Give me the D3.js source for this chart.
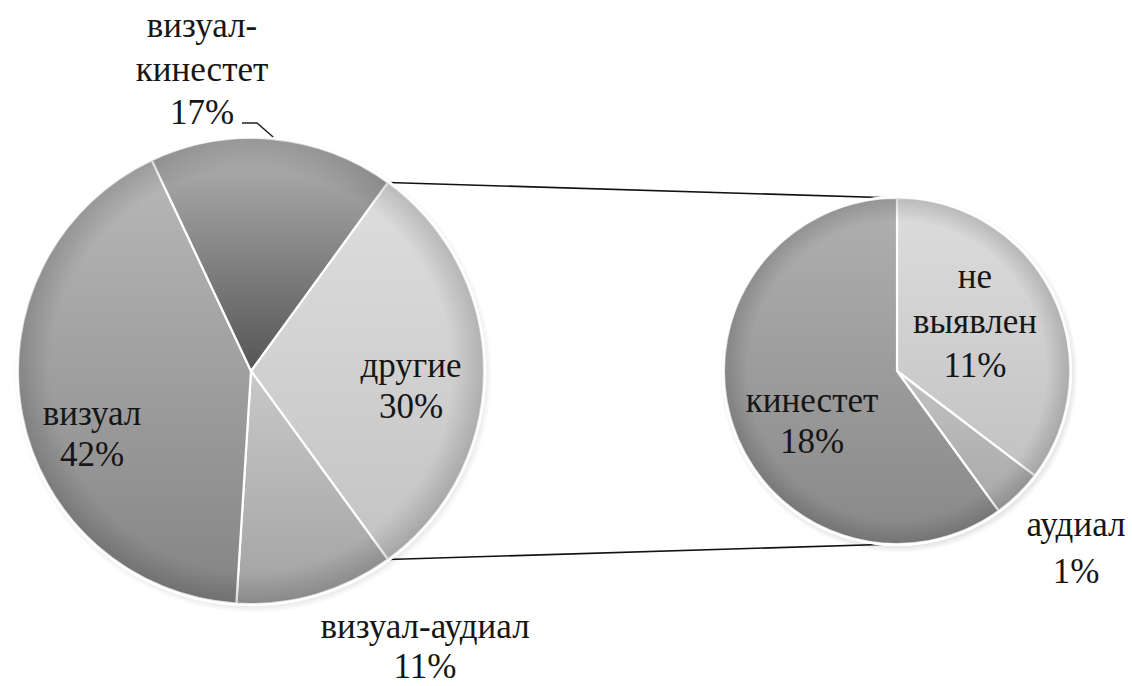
<!DOCTYPE html>
<html>
<head>
<meta charset="utf-8">
<script src="https://cdn.jsdelivr.net/npm/d3@7"></script>
<style>
  body { margin: 0; background: #fff; }
  svg { display: block; }
</style>
</head>
<body>
<svg id="chart" width="1132" height="686"></svg>
<script>
// Main pie: share of each perception type, %
const mainCategories = ["другие", "визуал-аудиал", "визуал", "визуал-кинестет"];
const mainValues = [30, 11, 42, 17];
// Breakdown of "другие", % of the whole sample
const subCategories = ["не выявлен", "аудиал", "кинестет"];
const subValues = [10.6, 1.4, 18.0];
// Label text lines (value appended from the data)
const labelLines = {
  "другие": ["другие"],
  "визуал-аудиал": ["визуал-аудиал"],
  "визуал": ["визуал"],
  "визуал-кинестет": ["визуал-", "кинестет"],
  "не выявлен": ["не", "выявлен"],
  "аудиал": ["аудиал"],
  "кинестет": ["кинестет"]
};

// ---- layout and styling ----
const svg = d3.select("#chart");
const main = { cx: 251, cy: 371, r: 233 };
const sub = { cx: 897, cy: 371, r: 173 };
const shades = {
  "другие": ["#dedede", "#c3c3c3"],
  "визуал-аудиал": ["#c8c8c8", "#a2a2a2"],
  "визуал": ["#b8b8b8", "#848484"],
  "визуал-кинестет": ["#b4b4b4", "#555555"],
  "не выявлен": ["#dddddd", "#c2c2c2"],
  "аудиал": ["#c2c2c2", "#a8a8a8"],
  "кинестет": ["#b0b0b0", "#888888"]
};
// label anchor: centre x, first baseline y, line step
const labelLayout = {
  "визуал-кинестет": { x: 202, y: 37, step: 43.5 },
  "визуал": { x: 92, y: 425, step: 41 },
  "другие": { x: 411, y: 377, step: 41 },
  "визуал-аудиал": { x: 425, y: 638, step: 40 },
  "не выявлен": { x: 975, y: 288, step: 44.5 },
  "кинестет": { x: 812, y: 412, step: 41 },
  "аудиал": { x: 1076, y: 536, step: 47 }
};
const fontSize = 35;
const pct = d3.format(".0%");

const defs = svg.append("defs");
Object.entries(shades).forEach(([name, [c0, c1]], i) => {
  const g = defs.append("linearGradient")
    .attr("id", "grad" + i)
    .attr("x1", 0).attr("y1", 0).attr("x2", 0).attr("y2", 1);
  g.append("stop").attr("offset", "0%").attr("stop-color", c0);
  g.append("stop").attr("offset", "100%").attr("stop-color", c1);
  shades[name].id = "grad" + i;
});
// soft darkening at the rim of each pie
const rim = defs.append("radialGradient").attr("id", "rim");
rim.append("stop").attr("offset", "0.86").attr("stop-color", "#000").attr("stop-opacity", 0);
rim.append("stop").attr("offset", "1").attr("stop-color", "#000").attr("stop-opacity", 0.16);
// faint shadow halo under each pie
const halo = defs.append("radialGradient").attr("id", "halo");
halo.append("stop").attr("offset", "0.9").attr("stop-color", "#000").attr("stop-opacity", 0.28);
halo.append("stop").attr("offset", "1").attr("stop-color", "#000").attr("stop-opacity", 0);

const total = d3.sum(mainValues);
const otherIdx = mainCategories.indexOf("другие");
// the split slice is centred on 3 o'clock
const start = Math.PI / 2 - (mainValues[otherIdx] / total) * Math.PI;

const mainPie = d3.pie().sort(null).value(d => d.v)
  .startAngle(start).endAngle(start + 2 * Math.PI);
const subPie = d3.pie().sort(null).value(d => d.v)
  .startAngle(0).endAngle(2 * Math.PI);

const mainData = mainPie(mainCategories.map((c, i) => ({ c, v: mainValues[i] })));
const subData = subPie(subCategories.map((c, i) => ({ c, v: subValues[i] })));

const polar = (p, a, r) => [p.cx + r * Math.sin(a), p.cy - r * Math.cos(a)];

// connector lines from the split slice to the secondary pie
const split = mainData[otherIdx];
const connectors = [
  [polar(main, split.startAngle, main.r), polar(sub, 0, sub.r)],
  [polar(main, split.endAngle, main.r), polar(sub, Math.PI, sub.r)]
];
svg.append("g").selectAll("line").data(connectors).join("line")
  .attr("x1", d => d[0][0]).attr("y1", d => d[0][1])
  .attr("x2", d => d[1][0]).attr("y2", d => d[1][1])
  .attr("stroke", "#111").attr("stroke-width", 1.6);

function drawPie(p, data) {
  const arc = d3.arc().innerRadius(0).outerRadius(p.r);
  const g = svg.append("g").attr("transform", `translate(${p.cx},${p.cy})`);
  g.append("circle").attr("cx", 2).attr("cy", 3).attr("r", p.r + 6).attr("fill", "url(#halo)");
  g.append("circle").attr("r", p.r + 2).attr("fill", "#fff");
  g.selectAll("path").data(data).join("path")
    .attr("d", arc)
    .attr("fill", d => `url(#${shades[d.data.c].id})`)
    .attr("stroke", "#fff").attr("stroke-width", 2.2)
    .attr("stroke-linejoin", "round");
  g.append("circle").attr("r", p.r).attr("fill", "url(#rim)");
  g.append("circle").attr("r", p.r + 1).attr("fill", "none")
    .attr("stroke", "#fff").attr("stroke-width", 2.5).attr("stroke-opacity", 0.9);
}
drawPie(main, mainData);
drawPie(sub, subData);

// each label line is its own text element in the serif face
function drawLabels(data) {
  data.forEach(d => {
    const name = d.data.c;
    const L = labelLayout[name];
    const lines = labelLines[name].concat([pct(d.data.v / 100)]);
    lines.forEach((s, i) => {
      svg.append("text")
        .attr("x", L.x)
        .attr("y", L.y + i * L.step)
        .attr("text-anchor", "middle")
        .attr("font-family", "Liberation Serif")
        .attr("font-size", fontSize)
        .attr("fill", "#161616")
        .text(s);
    });
  });
}
drawLabels(mainData);
drawLabels(subData);

// leader line for the label placed outside the pie, ending at the slice's mid-angle
const vk = mainData[mainCategories.indexOf("визуал-кинестет")];
const vkEdge = polar(main, (vk.startAngle + vk.endAngle) / 2, main.r + 2);
svg.append("path")
  .attr("d", d3.line()([[242, 123], [257, 123], vkEdge]))
  .attr("fill", "none").attr("stroke", "#222").attr("stroke-width", 1.5);
</script>
</body>
</html>
